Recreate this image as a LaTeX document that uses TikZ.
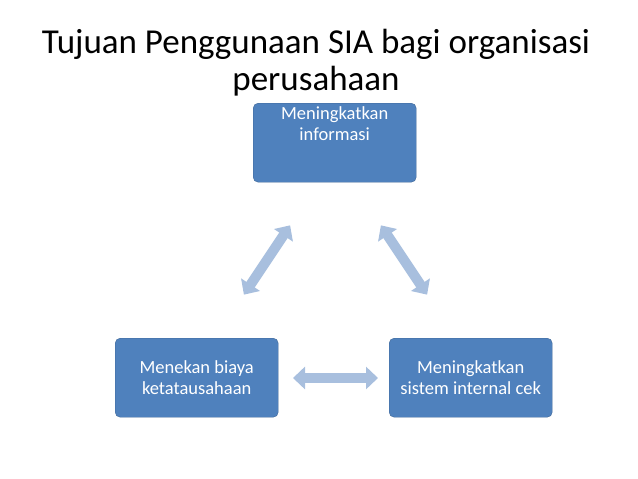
\documentclass[tikz,border=0pt]{standalone}
\usepackage{fontspec}
\setmainfont{Carlito}
\usetikzlibrary{arrows.meta}
\definecolor{boxblue}{HTML}{4F81BD}
\definecolor{arrblue}{HTML}{A8BFDE}
\begin{document}
\begin{tikzpicture}[x=1pt,y=-1pt,
  box/.style={draw=boxblue!80!black,fill=boxblue,rounded corners=5pt,minimum width=163pt,minimum height=79pt,text=white,align=center,font=\fontsize{18.5}{21}\selectfont,inner sep=2pt},
  dbl/.style={draw=arrblue,line width=10pt,{Triangle[width=22pt,length=12pt]}-{Triangle[width=22pt,length=12pt]},shorten <=-2pt,shorten >=-2pt}]
\useasboundingbox (0,0) rectangle (638,479);
\node[font=\fontsize{35}{37}\selectfont,align=center] (title) at (316,63) {Tujuan Penggunaan SIA bagi organisasi\\perusahaan};
\node[box,anchor=north west] (top) at (253,103) {Meningkatkan\\informasi\\[18pt]};
\node[box,anchor=north west] (left) at (115,338) {Menekan biaya\\ketatausahaan};
\node[box,anchor=north west] (right) at (389,338) {Meningkatkan\\sistem internal cek};
\coordinate (a1) at (245,293);
\coordinate (a2) at (289,227);
\coordinate (b1) at (382,227);
\coordinate (b2) at (426,293);
\coordinate (c1) at (295,378);
\coordinate (c2) at (376,378);
\draw[dbl] (a1) -- (a2);
\draw[dbl] (b1) -- (b2);
\draw[dbl] (c1) -- (c2);
\end{tikzpicture}
\end{document}
